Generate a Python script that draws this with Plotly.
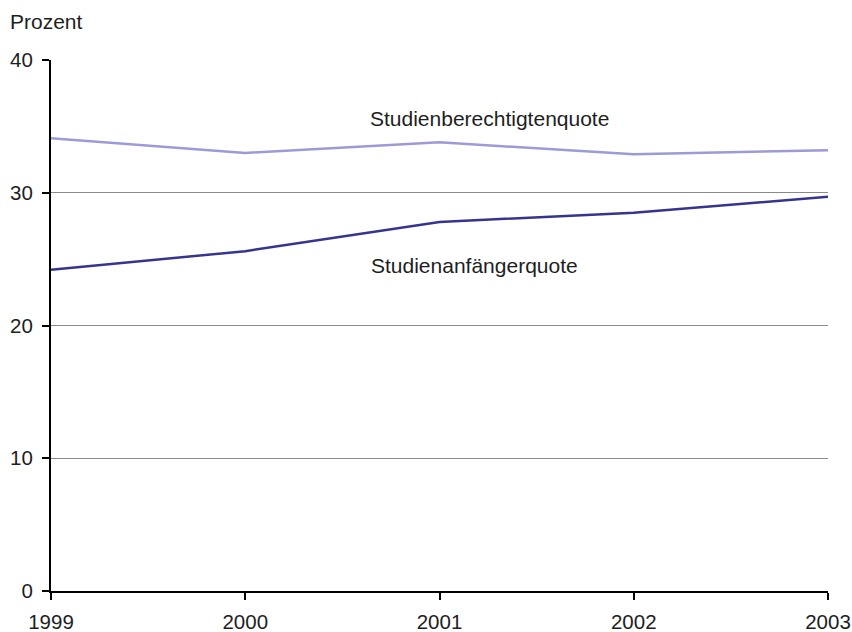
import plotly.graph_objects as go

years = [1999, 2000, 2001, 2002, 2003]
berechtigt = [34.1, 33.0, 33.8, 32.9, 33.2]
anfaenger = [24.2, 25.6, 27.8, 28.5, 29.7]
y_ticks = [0, 10, 20, 30, 40]

FONT = "Liberation Sans, Arial, sans-serif"
TXT = "#1e1e1e"

fig = go.Figure()
fig.add_trace(go.Scatter(x=years, y=berechtigt, mode="lines",
                         line=dict(color="#9c9ad8", width=2.5), name="Studienberechtigtenquote"))
fig.add_trace(go.Scatter(x=years, y=anfaenger, mode="lines",
                         line=dict(color="#35348f", width=2.5), name="Studienanfängerquote"))

fig.add_annotation(x=2001.255, y=35.6, text="Studienberechtigtenquote", showarrow=False,
                   font=dict(family=FONT, size=21, color=TXT))
fig.add_annotation(x=2001.18, y=24.55, text="Studienanfängerquote", showarrow=False,
                   font=dict(family=FONT, size=21, color=TXT))
fig.add_annotation(x=-43/777, y=1 + 38/531, xref="paper", yref="paper", text="Prozent",
                   showarrow=False, xanchor="left", yanchor="middle",
                   font=dict(family=FONT, size=21, color=TXT))

fig.update_layout(
    width=852, height=632,
    margin=dict(l=51, r=24, t=60, b=41),
    paper_bgcolor="white", plot_bgcolor="white",
    showlegend=False,
    font=dict(family=FONT, size=20.5, color=TXT),
)

fig.update_xaxes(range=[1999, 2003], tickvals=years, ticktext=[str(y) for y in years],
                 showgrid=False, showline=True, linecolor="black", linewidth=2,
                 ticks="outside", ticklen=7, tickwidth=2, tickcolor="black",
                 zeroline=False, automargin=False, ticklabelstandoff=4,
                 ticklabeloverflow="allow",
                 tickfont=dict(family=FONT, size=20.5, color=TXT))
fig.update_yaxes(range=[0, 40], tickvals=y_ticks,
                 showgrid=True, gridcolor="#8a8a8a", gridwidth=1,
                 showline=True, linecolor="black", linewidth=2,
                 ticks="outside", ticklen=7, tickwidth=2, tickcolor="black",
                 zeroline=False, automargin=False, ticklabelstandoff=5,
                 tickfont=dict(family=FONT, size=20.5, color=TXT))

fig.write_html(
    "out.html",
    config={"displayModeBar": False},
    post_script="document.body.style.margin='0';"
                "document.documentElement.style.overflow='hidden';"
                "document.body.style.overflow='hidden';",
)
